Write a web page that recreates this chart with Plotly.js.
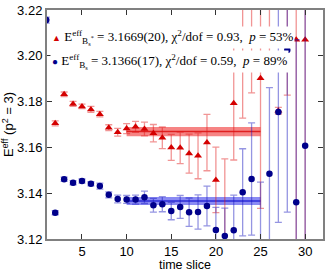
<!DOCTYPE html>
<html>
<head>
<meta charset="utf-8">
<script src="https://cdn.plot.ly/plotly-3.0.1.min.js"></script>
<style>html,body{margin:0;padding:0;background:#fff;}#chart{width:327px;height:271px;}</style>
</head>
<body>
<div id="chart"></div>
<script>
// time slices
const timeSlice = [1,2,3,4,5,6,7,8,9,10,11,12,13,14,15,16,17,18,19,20,21,22,23,24,25,26,27,28,29,30];
// B_s* effective energy and errors
const bsStar    = [3.2450,3.1705,3.1832,3.1790,3.1779,3.1766,3.1745,3.1686,3.1666,3.1682,3.1690,3.1680,3.1662,3.1642,3.1600,3.1598,3.1573,3.1563,3.1621,3.1458,3.1050,3.1793,3.2050,3.2045,3.1902,3.2280,3.1760,3.2069,3.2070,3.2070];
const bsStarErr = [0.0015,0.0011,0.0010,0.0011,0.0010,0.0013,0.0012,0.0013,0.0017,0.0022,0.0024,0.0030,0.0038,0.0047,0.0057,0.0069,0.0085,0.0100,0.0123,0.0143,0.0500,0.0248,0.0322,0.0207,0.0568,0.0320,0.0015,0.0241,0.1000,0.1000];
// B_s effective energy and errors
const bs    = [3.2156,3.1315,3.1461,3.1446,3.1453,3.1441,3.1431,3.1393,3.1375,3.1373,3.1372,3.1382,3.1347,3.1352,3.1322,3.1340,3.1317,3.1318,3.1344,3.1239,3.1213,3.1238,3.1404,3.1462,3.1120,3.1485,3.1755,3.2025,3.1360,3.1607];
const bsErr = [0.0013,0.0009,0.0009,0.0009,0.0009,0.0009,0.0013,0.0013,0.0017,0.0017,0.0020,0.0027,0.0030,0.0033,0.0038,0.0050,0.0062,0.0075,0.0087,0.0099,0.0122,0.0154,0.0190,0.0245,0.0328,0.0376,0.0482,0.0708,0.0710,0.0750];
// fits
const fitRange = [10, 25];
const fitValue = [3.1669, 3.1366];
const fitErr   = [0.0020, 0.0017];
const fitText  = ['3.1669(20)', '3.1366(17)'];
const chi2dof  = ['0.93', '0.59'];
const pValue   = ['53%', '89%'];
const seriesLabel = ['E<sup>eff</sup><sub>B<sub>s</sub><sup>*</sup></sub>', 'E<sup>eff</sup><sub>B<sub>s</sub></sub>'];
const xTicks = [5,10,15,20,25,30];
const yTicks = [3.12,3.14,3.16,3.18,3.20,3.22];
const yTickText = ['3.12','3.14','3.16','3.18','3.20','3.22'];

const red = '#d40000', navy = '#00008b';
const bandFill = ['rgba(240,50,50,0.6)', 'rgba(60,60,235,0.6)'];
const bandLine = ['#e02020', '#2b2bd8'];

const traces = [];
[0,1].forEach(i => {
  traces.push({x: fitRange, y: fitRange.map(() => fitValue[i] + fitErr[i]), mode: 'lines', line: {width: 0}, showlegend: false, hoverinfo: 'skip'});
  traces.push({x: fitRange, y: fitRange.map(() => fitValue[i] - fitErr[i]), mode: 'lines', line: {width: 0}, fill: 'tonexty', fillcolor: bandFill[i], showlegend: false, hoverinfo: 'skip'});
  traces.push({x: fitRange, y: fitRange.map(() => fitValue[i]), mode: 'lines', line: {width: 1.5, color: bandLine[i]}, showlegend: false, hoverinfo: 'skip'});
});
traces.push({x: timeSlice, y: bsStar, mode: 'markers', name: 'Bs*',
  marker: {symbol: 'triangle-up', size: 7, color: red},
  error_y: {type: 'data', array: bsStarErr, visible: true, color: 'rgba(225,20,20,0.45)', thickness: 1.3, width: 3.5},
  showlegend: false});
traces.push({x: timeSlice, y: bs, mode: 'markers', name: 'Bs',
  marker: {symbol: 'circle', size: 6.5, color: navy},
  error_y: {type: 'data', array: bsErr, visible: true, color: 'rgba(20,20,190,0.45)', thickness: 1.3, width: 3.5},
  showlegend: false});

const symbols = ['<span style="color:' + red + ';font-size:9px">▲</span>', '<span style="color:' + navy + ';font-size:10px">●</span>'];
const annY = [0.878, 0.777];
const annotations = [0,1].map(i => ({
  xref: 'paper', yref: 'paper', x: 0.012, y: annY[i], xanchor: 'left', yanchor: 'middle',
  showarrow: false, bgcolor: '#ffffff', borderpad: 1,
  font: {family: 'Liberation Serif, serif', size: 13, color: '#000'},
  text: symbols[i] + ' ' + seriesLabel[i] + ' = ' + fitText[i] + ', χ<sup>2</sup>/dof = ' + chi2dof[i] + ',  <i>p</i> = ' + pValue[i]
}));

const axisCommon = {showgrid: false, zeroline: false, showline: true, linecolor: '#808080', linewidth: 2,
  ticks: 'inside', ticklen: 5, tickcolor: '#333', tickwidth: 1, mirror: 'ticks',
  tickfont: {family: 'Liberation Sans, Arial, sans-serif', size: 13, color: '#000'}};

const layout = {
  width: 327, height: 271,
  margin: {l: 47, r: 4, t: 10, b: 32},
  paper_bgcolor: '#fff', plot_bgcolor: '#fff',
  showlegend: false,
  xaxis: Object.assign({}, axisCommon, {range: [1.08, 32], tickvals: xTicks, automargin: false,
    title: {text: 'time slice', font: {family: 'Liberation Sans, Arial, sans-serif', size: 12.5, color: '#000'}, standoff: 4}}),
  yaxis: Object.assign({}, axisCommon, {range: [3.12, 3.22], tickvals: yTicks, ticktext: yTickText,
    title: {text: 'E<sup>eff</sup> (p<sup>2</sup> = 3)', font: {family: 'Liberation Sans, Arial, sans-serif', size: 13, color: '#000'}, standoff: 2}}),
  annotations: annotations
};
Plotly.newPlot('chart', traces, layout, {displayModeBar: false, staticPlot: true}).then(gd => {
  // small vertical nudges of the x-axis title and tick labels, as in the reference
  const xt = gd.querySelector('.xtitle');
  if (xt) xt.setAttribute('y', parseFloat(xt.getAttribute('y')) + 1);
  gd.querySelectorAll('.xtick text').forEach(el => {
    el.setAttribute('y', parseFloat(el.getAttribute('y')) - 1);
  });
});
</script>
</body>
</html>
